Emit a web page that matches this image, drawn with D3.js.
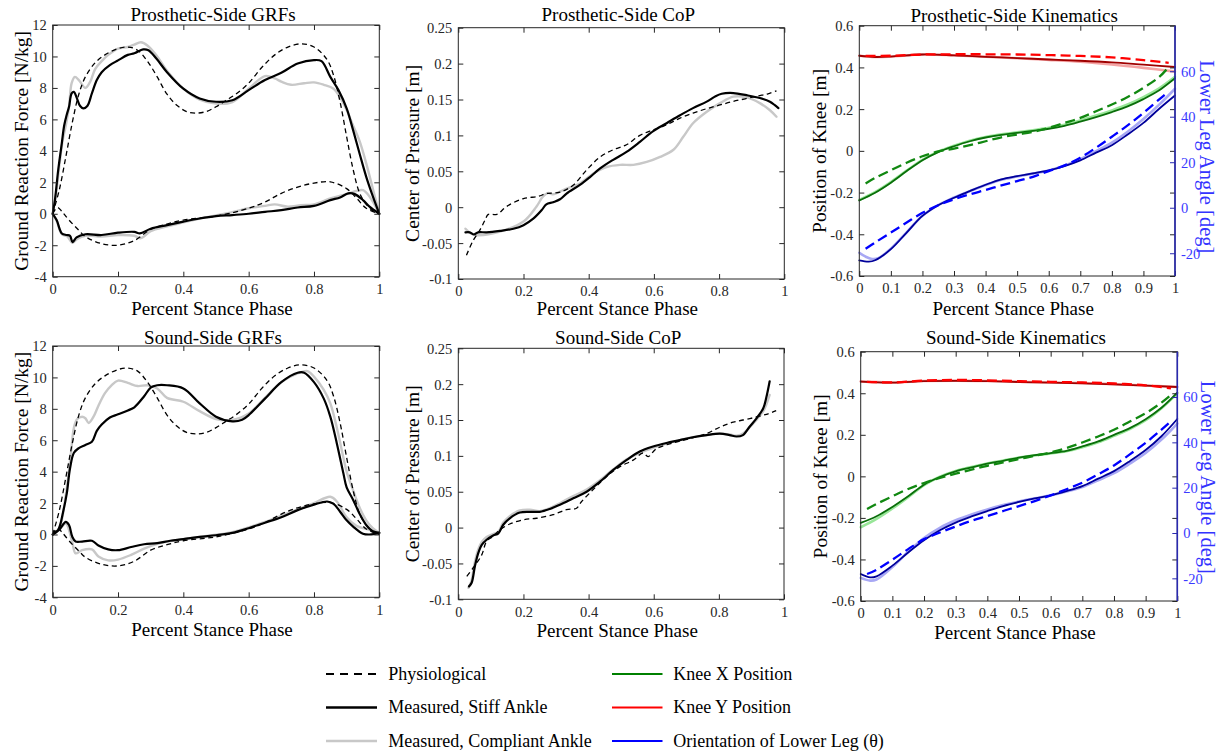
<!DOCTYPE html>
<html><head><meta charset="utf-8">
<script src="https://cdn.jsdelivr.net/npm/d3@7"></script>
<style>body{margin:0;background:#fff}svg{display:block}text{font-family:"Liberation Serif","Times New Roman",serif}</style>
</head><body><svg id="c" width="1220" height="752"></svg>
<script>
// ---------------- DATA ----------------
const phaseTicks5 = [0, 0.2, 0.4, 0.6, 0.8, 1];
const phaseTicks10 = [0, 0.1, 0.2, 0.3, 0.4, 0.5, 0.6, 0.7, 0.8, 0.9, 1];
const grfYTicks = [-4, -2, 0, 2, 4, 6, 8, 10, 12];
const copYTicks = [-0.1, -0.05, 0, 0.05, 0.1, 0.15, 0.2, 0.25];
const kinYTicks = [-0.6, -0.4, -0.2, 0, 0.2, 0.4, 0.6];
const angleTicks = [-20, 0, 20, 40, 60];

const titles = ["Prosthetic-Side GRFs", "Prosthetic-Side CoP", "Prosthetic-Side Kinematics",
                "Sound-Side GRFs", "Sound-Side CoP", "Sound-Side Kinematics"];
const legendLabels = ["Physiological", "Measured, Stiff Ankle", "Measured, Compliant Ankle",
                      "Knee X Position", "Knee Y Position", "Orientation of Lower Leg (\u03B8)"];

// GRFs [phase, N/kg]
const physGrfV = [[0,0],[0.02,1.5],[0.04,3.6],[0.06,5.8],[0.08,7.6],[0.1,8.7],[0.13,9.6],[0.16,10.1],[0.2,10.5],[0.23,10.6],[0.26,10.4],[0.29,9.7],[0.32,8.7],[0.35,7.6],[0.38,6.9],[0.41,6.5],[0.44,6.4],[0.47,6.5],[0.5,6.8],[0.53,7.2],[0.56,7.6],[0.6,8.3],[0.64,9.3],[0.68,10.1],[0.72,10.6],[0.76,10.8],[0.8,10.6],[0.84,9.8],[0.86,8.8],[0.88,7.1],[0.9,4.9],[0.92,2.8],[0.94,1.3],[0.96,0.6],[0.98,0.2],[1,0]];
const physGrfH = [[0,0],[0.015,0.4],[0.03,0.1],[0.05,-0.4],[0.08,-1.05],[0.1,-1.45],[0.15,-1.9],[0.2,-2.0],[0.25,-1.7],[0.3,-1.0],[0.35,-0.65],[0.4,-0.4],[0.5,-0.15],[0.6,0.35],[0.65,0.75],[0.7,1.3],[0.75,1.7],[0.8,1.95],[0.85,2.03],[0.9,1.6],[0.93,1.0],[0.96,0.35],[1,0]];
const stiffGrfVP = [[0,0],[0.007,0.9],[0.017,2.8],[0.028,4.5],[0.035,5.6],[0.043,6.3],[0.05,6.8],[0.058,7.65],[0.065,7.75],[0.073,7.4],[0.084,6.85],[0.094,6.7],[0.106,6.85],[0.12,7.65],[0.135,8.5],[0.15,9.0],[0.175,9.45],[0.2,9.75],[0.23,10.1],[0.25,10.2],[0.277,10.45],[0.293,10.4],[0.318,9.85],[0.35,9.0],[0.4,7.95],[0.45,7.33],[0.5,7.12],[0.55,7.22],[0.6,7.86],[0.65,8.5],[0.7,8.96],[0.75,9.55],[0.8,9.77],[0.823,9.7],[0.85,8.7],[0.875,7.86],[0.9,6.7],[0.92,5.3],[0.94,3.8],[0.96,2.35],[0.977,1.3],[1,0]];
const compGrfVP = [[0,0],[0.01,1.2],[0.02,3.0],[0.03,4.6],[0.04,5.6],[0.05,6.8],[0.058,8.3],[0.068,8.7],[0.08,8.5],[0.1,8.0],[0.115,8.4],[0.13,9.2],[0.15,9.7],[0.17,10.1],[0.2,10.5],[0.23,10.6],[0.25,10.75],[0.27,10.9],[0.29,10.7],[0.32,10.0],[0.35,9.1],[0.4,7.95],[0.45,7.25],[0.5,7.0],[0.55,7.1],[0.6,7.95],[0.65,8.75],[0.68,8.6],[0.7,8.4],[0.73,8.2],[0.77,8.3],[0.8,8.35],[0.83,8.2],[0.86,7.95],[0.88,7.4],[0.9,6.6],[0.92,5.6],[0.94,4.6],[0.96,3.2],[0.98,1.6],[1,0]];
const stiffGrfHP = [[0,0],[0.012,-0.4],[0.028,-1.25],[0.043,-1.35],[0.053,-1.4],[0.061,-1.8],[0.073,-1.5],[0.1,-1.3],[0.15,-1.35],[0.2,-1.2],[0.25,-1.15],[0.267,-1.25],[0.3,-0.95],[0.35,-0.72],[0.4,-0.5],[0.45,-0.3],[0.5,-0.15],[0.55,-0.08],[0.6,0],[0.65,0.12],[0.7,0.23],[0.75,0.4],[0.8,0.5],[0.85,0.87],[0.88,1.04],[0.905,1.3],[0.925,1.25],[0.95,0.87],[0.97,0.45],[1,0]];
const compGrfHP = [[0,0],[0.012,-0.45],[0.028,-1.3],[0.045,-1.45],[0.06,-1.85],[0.075,-1.6],[0.1,-1.4],[0.15,-1.45],[0.2,-1.35],[0.25,-1.4],[0.27,-1.55],[0.3,-1.1],[0.35,-0.8],[0.4,-0.55],[0.45,-0.3],[0.5,-0.1],[0.55,0.1],[0.6,0.35],[0.65,0.5],[0.68,0.6],[0.72,0.45],[0.76,0.55],[0.8,0.6],[0.85,0.97],[0.9,1.25],[0.93,1.45],[0.95,1.5],[0.97,1.1],[1,0]];
const stiffGrfVS = [[0,0],[0.017,0.3],[0.033,1.55],[0.043,2.6],[0.053,4.2],[0.065,5.2],[0.08,5.5],[0.1,5.7],[0.12,5.9],[0.135,6.6],[0.15,7.0],[0.175,7.45],[0.2,7.65],[0.23,7.9],[0.25,8.1],[0.28,8.8],[0.3,9.35],[0.32,9.5],[0.35,9.5],[0.4,9.3],[0.45,8.35],[0.5,7.5],[0.55,7.2],[0.58,7.3],[0.6,7.6],[0.65,8.65],[0.7,9.7],[0.75,10.3],[0.77,10.3],[0.8,9.7],[0.83,8.65],[0.85,7.5],[0.87,5.8],[0.89,3.9],[0.9,3.0],[0.92,2.2],[0.94,1.3],[0.96,0.6],[0.98,0.2],[1,0.1]];
const compGrfVS = [[0,0],[0.02,0.4],[0.04,2.5],[0.055,5.0],[0.065,6.8],[0.075,7.35],[0.09,7.5],[0.1,7.4],[0.11,7.1],[0.125,7.5],[0.14,8.2],[0.16,9.0],[0.18,9.5],[0.2,9.8],[0.23,9.65],[0.26,9.45],[0.29,9.5],[0.32,9.3],[0.35,8.7],[0.4,8.45],[0.45,7.85],[0.5,7.35],[0.55,7.3],[0.6,7.7],[0.65,8.7],[0.7,9.7],[0.75,10.25],[0.78,10.4],[0.8,10.05],[0.83,9.2],[0.85,8.35],[0.87,6.8],[0.89,4.9],[0.9,4.0],[0.92,2.8],[0.94,1.7],[0.96,0.9],[0.98,0.4],[1,0.1]];
const stiffGrfHS = [[0,0],[0.02,0.3],[0.04,0.8],[0.05,0.6],[0.06,-0.15],[0.07,-0.45],[0.09,-0.45],[0.12,-0.4],[0.14,-0.7],[0.17,-0.95],[0.2,-1.0],[0.24,-0.8],[0.28,-0.62],[0.32,-0.55],[0.36,-0.4],[0.4,-0.3],[0.45,-0.15],[0.5,-0.05],[0.55,0.1],[0.6,0.4],[0.65,0.75],[0.7,1.1],[0.75,1.55],[0.8,1.9],[0.84,2.1],[0.86,1.95],[0.88,1.45],[0.9,0.9],[0.92,0.5],[0.95,0.05],[0.97,0],[1,0.1]];
const compGrfHS = [[0,0],[0.02,0.3],[0.04,0.7],[0.06,-0.5],[0.07,-1.2],[0.09,-1.0],[0.12,-0.95],[0.14,-1.4],[0.17,-1.65],[0.2,-1.6],[0.24,-1.3],[0.28,-0.9],[0.32,-0.6],[0.36,-0.42],[0.4,-0.3],[0.45,-0.15],[0.5,-0.02],[0.55,0.15],[0.6,0.45],[0.65,0.8],[0.7,1.2],[0.75,1.6],[0.8,2.0],[0.85,2.4],[0.87,2.1],[0.9,1.1],[0.93,0.55],[0.96,0.35],[1,0.1]];

// CoP [phase, m]
const physCopP = [[0.025,-0.067],[0.046,-0.046],[0.066,-0.032],[0.082,-0.018],[0.092,-0.01],[0.118,-0.01],[0.148,0.001],[0.2,0.012],[0.245,0.015],[0.27,0.019],[0.312,0.021],[0.353,0.031],[0.394,0.052],[0.435,0.07],[0.475,0.08],[0.516,0.087],[0.557,0.1],[0.6,0.108],[0.64,0.115],[0.68,0.124],[0.72,0.131],[0.76,0.137],[0.8,0.142],[0.84,0.147],[0.88,0.151],[0.92,0.155],[0.95,0.158],[0.976,0.162]];
const stiffCopP = [[0.022,-0.035],[0.035,-0.035],[0.048,-0.038],[0.061,-0.035],[0.087,-0.035],[0.128,-0.033],[0.169,-0.03],[0.2,-0.025],[0.23,-0.016],[0.256,-0.004],[0.27,0.004],[0.291,0.007],[0.312,0.011],[0.332,0.019],[0.373,0.031],[0.404,0.042],[0.435,0.054],[0.475,0.066],[0.516,0.077],[0.557,0.091],[0.598,0.106],[0.639,0.117],[0.68,0.128],[0.72,0.138],[0.762,0.147],[0.787,0.154],[0.808,0.158],[0.844,0.159],[0.884,0.156],[0.925,0.152],[0.956,0.147],[0.971,0.142],[0.982,0.138]];
const compCopP = [[0.022,-0.03],[0.04,-0.037],[0.06,-0.039],[0.128,-0.034],[0.2,-0.02],[0.24,0.001],[0.26,0.015],[0.276,0.02],[0.29,0.018],[0.332,0.026],[0.373,0.033],[0.414,0.047],[0.455,0.056],[0.496,0.059],[0.537,0.059],[0.578,0.063],[0.619,0.07],[0.66,0.08],[0.69,0.098],[0.72,0.117],[0.762,0.133],[0.803,0.145],[0.844,0.154],[0.884,0.153],[0.925,0.145],[0.956,0.135],[0.976,0.126]];
const physCopS = [[0.026,-0.068],[0.046,-0.056],[0.072,-0.038],[0.087,-0.019],[0.107,-0.012],[0.128,-0.003],[0.158,0.005],[0.2,0.011],[0.24,0.013],[0.291,0.018],[0.332,0.025],[0.363,0.027],[0.378,0.036],[0.414,0.053],[0.455,0.071],[0.496,0.085],[0.537,0.094],[0.567,0.104],[0.583,0.099],[0.608,0.11],[0.66,0.118],[0.71,0.124],[0.762,0.131],[0.803,0.14],[0.844,0.147],[0.895,0.152],[0.946,0.158],[0.976,0.163]];
const stiffCopS = [[0.033,-0.082],[0.041,-0.077],[0.051,-0.054],[0.061,-0.036],[0.072,-0.024],[0.087,-0.017],[0.107,-0.011],[0.123,-0.008],[0.138,0.004],[0.158,0.013],[0.189,0.021],[0.22,0.022],[0.25,0.022],[0.281,0.026],[0.312,0.032],[0.353,0.041],[0.394,0.05],[0.435,0.064],[0.475,0.08],[0.516,0.094],[0.557,0.106],[0.598,0.113],[0.639,0.118],[0.68,0.122],[0.72,0.126],[0.762,0.129],[0.803,0.131],[0.833,0.129],[0.854,0.127],[0.874,0.129],[0.895,0.141],[0.915,0.152],[0.936,0.166],[0.946,0.182],[0.956,0.204]];
const compCopS = [[0.031,-0.084],[0.04,-0.075],[0.05,-0.05],[0.06,-0.032],[0.072,-0.02],[0.087,-0.013],[0.107,-0.009],[0.123,-0.006],[0.138,0.007],[0.158,0.016],[0.189,0.024],[0.22,0.025],[0.25,0.023],[0.281,0.027],[0.312,0.034],[0.353,0.044],[0.394,0.053],[0.435,0.066],[0.475,0.081],[0.516,0.095],[0.557,0.104],[0.598,0.111],[0.639,0.117],[0.68,0.122],[0.72,0.126],[0.762,0.129],[0.803,0.131],[0.833,0.13],[0.854,0.128],[0.874,0.131],[0.895,0.14],[0.915,0.15],[0.936,0.162],[0.946,0.172],[0.956,0.185]];

// Kinematics: knee position [m] (left axis), lower-leg angle [deg] (right axis)
const stiffKyP = [[0,0.456],[0.05,0.45],[0.1,0.452],[0.2,0.462],[0.3,0.458],[0.4,0.451],[0.5,0.445],[0.6,0.438],[0.7,0.432],[0.8,0.424],[0.9,0.413],[1,0.402]];
const compKyP = [[0,0.456],[0.05,0.45],[0.1,0.452],[0.2,0.462],[0.3,0.458],[0.4,0.451],[0.5,0.444],[0.6,0.436],[0.7,0.427],[0.8,0.414],[0.9,0.398],[1,0.38]];
const physKyP = [[0.02,0.455],[0.1,0.456],[0.2,0.462],[0.3,0.463],[0.4,0.463],[0.5,0.462],[0.6,0.459],[0.7,0.455],[0.8,0.448],[0.9,0.435],[0.98,0.422]];
const stiffKxP = [[0,-0.238],[0.05,-0.201],[0.1,-0.153],[0.15,-0.097],[0.2,-0.045],[0.25,-0.006],[0.3,0.022],[0.35,0.046],[0.4,0.064],[0.45,0.077],[0.5,0.086],[0.55,0.096],[0.6,0.106],[0.65,0.12],[0.7,0.14],[0.75,0.162],[0.8,0.186],[0.85,0.213],[0.9,0.248],[0.95,0.29],[1,0.348]];
const compKxP = [[0,-0.235],[0.05,-0.198],[0.1,-0.15],[0.15,-0.095],[0.2,-0.043],[0.25,-0.004],[0.3,0.024],[0.35,0.048],[0.4,0.066],[0.45,0.079],[0.5,0.089],[0.55,0.099],[0.6,0.11],[0.65,0.125],[0.7,0.146],[0.75,0.169],[0.8,0.194],[0.85,0.222],[0.9,0.258],[0.95,0.3],[1,0.355]];
const physKxP = [[0.02,-0.156],[0.05,-0.13],[0.1,-0.093],[0.15,-0.057],[0.2,-0.026],[0.25,-0.003],[0.3,0.011],[0.35,0.027],[0.4,0.046],[0.45,0.065],[0.5,0.078],[0.55,0.091],[0.6,0.11],[0.65,0.134],[0.7,0.158],[0.75,0.19],[0.8,0.222],[0.85,0.258],[0.9,0.302],[0.95,0.354],[0.98,0.402]];
const stiffThP = [[0,-23.1],[0.03,-23.7],[0.05,-23.1],[0.1,-18.2],[0.15,-10.9],[0.2,-3.6],[0.25,1.1],[0.3,4.4],[0.35,7.3],[0.4,10.1],[0.45,12.5],[0.5,13.9],[0.55,15.1],[0.6,16.4],[0.65,18.3],[0.7,20.8],[0.75,24.2],[0.8,27.5],[0.85,32.2],[0.9,37.3],[0.95,43.5],[1,49.3]];
const compThP = [[0,-19.8],[0.02,-21.5],[0.04,-22.5],[0.06,-22.2],[0.1,-18.0],[0.15,-10.8],[0.2,-3.5],[0.25,1.2],[0.3,4.5],[0.35,7.3],[0.4,10.0],[0.45,12.3],[0.5,13.7],[0.55,15.0],[0.6,16.4],[0.65,18.5],[0.7,21.3],[0.75,24.9],[0.8,28.6],[0.85,33.4],[0.9,39.0],[0.95,45.3],[1,52.3]];
const physThP = [[0.02,-18],[0.05,-15.3],[0.1,-10.9],[0.15,-6.5],[0.2,-2.2],[0.25,1.1],[0.3,3.7],[0.35,5.9],[0.4,7.8],[0.45,9.8],[0.5,11.7],[0.55,13.6],[0.6,16.1],[0.65,18.6],[0.7,22],[0.75,26.4],[0.8,31.2],[0.85,36.2],[0.9,41.7],[0.95,47.6],[0.98,51]];
const stiffKyS = [[0,0.456],[0.1,0.451],[0.2,0.458],[0.3,0.46],[0.4,0.458],[0.5,0.454],[0.6,0.451],[0.7,0.448],[0.8,0.443],[0.9,0.437],[1,0.43]];
const compKyS = [[0,0.457],[0.1,0.452],[0.2,0.459],[0.3,0.461],[0.4,0.459],[0.5,0.455],[0.6,0.452],[0.7,0.449],[0.8,0.444],[0.9,0.437],[1,0.43]];
const physKyS = [[0.02,0.455],[0.1,0.452],[0.2,0.461],[0.3,0.464],[0.4,0.462],[0.5,0.458],[0.6,0.455],[0.7,0.452],[0.8,0.447],[0.9,0.438],[0.98,0.424]];
const stiffKxS = [[0,-0.224],[0.05,-0.192],[0.1,-0.147],[0.15,-0.096],[0.2,-0.04],[0.25,-0.003],[0.3,0.024],[0.35,0.043],[0.4,0.061],[0.45,0.075],[0.5,0.09],[0.55,0.102],[0.6,0.112],[0.65,0.123],[0.7,0.144],[0.75,0.168],[0.8,0.2],[0.85,0.232],[0.9,0.275],[0.95,0.33],[1,0.403]];
const compKxS = [[0,-0.245],[0.05,-0.205],[0.1,-0.155],[0.15,-0.1],[0.2,-0.042],[0.25,-0.002],[0.3,0.026],[0.35,0.045],[0.4,0.062],[0.45,0.076],[0.5,0.09],[0.55,0.101],[0.6,0.11],[0.65,0.121],[0.7,0.14],[0.75,0.164],[0.8,0.195],[0.85,0.228],[0.9,0.27],[0.95,0.328],[1,0.4]];
const physKxS = [[0.02,-0.157],[0.05,-0.133],[0.1,-0.096],[0.15,-0.061],[0.2,-0.032],[0.25,-0.008],[0.3,0.013],[0.35,0.032],[0.4,0.051],[0.45,0.067],[0.5,0.083],[0.55,0.099],[0.6,0.115],[0.65,0.136],[0.7,0.163],[0.75,0.192],[0.8,0.224],[0.85,0.264],[0.9,0.304],[0.95,0.355],[0.98,0.392]];
const stiffThS = [[0,-18.1],[0.03,-19.6],[0.05,-19.1],[0.1,-14.4],[0.15,-8.6],[0.2,-3.2],[0.25,1.2],[0.3,4.6],[0.35,7.3],[0.4,9.7],[0.45,11.9],[0.5,13.7],[0.55,15.3],[0.6,16.6],[0.65,18.5],[0.7,20.7],[0.75,24],[0.8,27.3],[0.85,31.7],[0.9,36.6],[0.95,42.7],[1,50.3]];
const compThS = [[0,-19.8],[0.03,-21],[0.05,-20.5],[0.1,-15],[0.15,-8.3],[0.2,-2.2],[0.25,2.3],[0.3,5.6],[0.35,8.2],[0.4,10.4],[0.45,12.3],[0.5,13.9],[0.55,15.3],[0.6,16.6],[0.65,18.3],[0.7,20.3],[0.75,23.3],[0.8,26.4],[0.85,30.6],[0.9,35.3],[0.95,41.2],[1,48.3]];
const physThS = [[0.02,-18.1],[0.05,-16.2],[0.1,-11.8],[0.15,-7.1],[0.2,-2.7],[0.25,0.2],[0.3,2.9],[0.35,5.4],[0.4,7.5],[0.45,9.7],[0.5,11.9],[0.55,14.1],[0.6,16.6],[0.65,19.3],[0.7,22.2],[0.75,25.9],[0.8,29.8],[0.85,34.7],[0.9,39.8],[0.95,45.6],[0.98,49.3]];

// ---------------- STYLE ----------------
const AX = "#262626";
const S = {
  grfPhys: {color:"#000", width:1.3, dash:"5,3.5"},
  grfStiff:{color:"#000", width:2.2},
  grfComp: {color:"#c8c8c8", width:2.4},
  ky: {phys:"#ff0000", stiff:"#a00000", comp:"#f4a4a4"},
  kx: {phys:"#118811", stiff:"#0a6e0a", comp:"#98e698"},
  th: {phys:"#0000ff", stiff:"#00009a", comp:"#a8a8f4"}
};
const TICK_FS = 14.5, TITLE_FS = 19, LABEL_FS = 19.5, XLABEL_FS = 19, RLABEL_FS = 20.5, LEG_FS = 18;

const svg = d3.select("#c");
let clipN = 0;

function drawPanel(p) {
  const x = d3.scaleLinear().domain([0, 1]).range([p.x0, p.x1]);
  const y = d3.scaleLinear().domain(p.yDomain).range([p.yBot, p.yTop]);
  const yR = p.yRDomain ? d3.scaleLinear().domain(p.yRDomain).range([p.yBot, p.yTop]) : null;
  const g = svg.append("g");
  const cid = "clip" + (clipN++);
  g.append("clipPath").attr("id", cid).append("rect")
    .attr("x", p.x0 - 1.5).attr("y", p.yTop - 1.5)
    .attr("width", p.x1 - p.x0 + 3).attr("height", p.yBot - p.yTop + 3);
  const lg = g.append("g").attr("clip-path", `url(#${cid})`);
  p.series.forEach(s => {
    const ys = s.right ? yR : y;
    const line = d3.line().x(d => x(d[0])).y(d => ys(d[1])).curve(d3.curveCatmullRom.alpha(0.5));
    lg.append("path").attr("d", line(s.data)).attr("fill", "none")
      .attr("stroke", s.color).attr("stroke-width", s.width)
      .attr("stroke-dasharray", s.dash || null)
      .attr("stroke-linejoin", "round").attr("stroke-linecap", s.dash ? "butt" : "round");
  });
  g.append("rect").attr("x", p.x0).attr("y", p.yTop).attr("width", p.x1 - p.x0).attr("height", p.yBot - p.yTop)
    .attr("fill", "none").attr("stroke", AX).attr("stroke-width", 1);
  const fmt = d => String(d);
  const style = (sel, color) => {
    sel.select(".domain").remove();
    sel.selectAll(".tick line").attr("stroke", color || AX).attr("stroke-width", 1);
    sel.selectAll(".tick text").attr("font-size", TICK_FS).attr("fill", color || AX)
      .attr("font-family", '"Liberation Serif","Times New Roman",serif');
  };
  const gb = g.append("g").attr("transform", `translate(0,${p.yBot})`)
    .call(d3.axisBottom(x).tickValues(p.xTicks).tickFormat(fmt).tickSize(-5).tickSizeOuter(0).tickPadding(7));
  style(gb);
  gb.selectAll(".tick text").attr("dy", null).attr("y", 17.3);
  const gt = g.append("g").attr("transform", `translate(0,${p.yTop})`)
    .call(d3.axisTop(x).tickValues(p.xTicks).tickFormat("").tickSize(-5).tickSizeOuter(0));
  style(gt);
  const gl = g.append("g").attr("transform", `translate(${p.x0},0)`)
    .call(d3.axisLeft(y).tickValues(p.yTicks).tickFormat(fmt).tickSize(-5).tickSizeOuter(0).tickPadding(6));
  style(gl);
  gl.selectAll(".tick text").attr("dy", "0.34em");
  const gr = g.append("g").attr("transform", `translate(${p.x1},0)`)
    .call(d3.axisRight(y).tickValues(p.yTicks).tickFormat("").tickSize(-5).tickSizeOuter(0));
  style(gr);
  if (yR) {
    const BL = "#2a2ab0";
    g.append("line").attr("x1", p.x1).attr("x2", p.x1).attr("y1", p.yTop).attr("y2", p.yBot)
      .attr("stroke", BL).attr("stroke-width", 1.6);
    const gr2 = g.append("g").attr("transform", `translate(${p.x1},0)`)
      .call(d3.axisRight(yR).tickValues(p.yRTicks).tickFormat(fmt).tickSize(-5).tickSizeOuter(0).tickPadding(6));
    style(gr2, "#3a3aff");
    gr2.selectAll(".tick line").attr("stroke", BL);
    gr2.selectAll(".tick text").attr("dy", "0.34em");
    g.append("text").attr("transform", `translate(${p.rLabelX},${(p.yTop + p.yBot) / 2 + p.rLabelDy}) rotate(90)`)
      .attr("text-anchor", "middle").attr("font-size", RLABEL_FS).attr("fill", "#3333ff").text(p.rLabel);
  }
  g.append("text").attr("x", (p.x0 + p.x1) / 2 - 3).attr("y", p.titleY).attr("text-anchor", "middle")
    .attr("font-size", TITLE_FS).attr("fill", "#000").text(p.title);
  g.append("text").attr("x", (p.x0 + p.x1) / 2 - 4).attr("y", p.xLabelY).attr("text-anchor", "middle")
    .attr("font-size", XLABEL_FS).attr("fill", "#000").text("Percent Stance Phase");
  g.append("text").attr("transform", `translate(${p.yLabelX},${(p.yTop + p.yBot) / 2}) rotate(-90)`)
    .attr("text-anchor", "middle").attr("font-size", LABEL_FS).attr("fill", "#000").text(p.yLabel);
}

function grfSeries(comp, stiff, compH, stiffH) {
  return [
    {data: comp, ...S.grfComp}, {data: compH, ...S.grfComp},
    {data: stiff, ...S.grfStiff}, {data: stiffH, ...S.grfStiff},
    {data: physGrfV, ...S.grfPhys}, {data: physGrfH, ...S.grfPhys}
  ];
}
function copSeries(comp, stiff, phys) {
  return [{data: comp, ...S.grfComp}, {data: stiff, ...S.grfStiff}, {data: phys, ...S.grfPhys}];
}
function kinSeries(ky, kx, th) {
  const out = [];
  [["comp", 2.6], ["stiff", 1.8]].forEach(([k, w]) => {
    out.push({data: ky[k], color: S.ky[k], width: w});
    out.push({data: kx[k], color: S.kx[k], width: w});
    out.push({data: th[k], color: S.th[k], width: w, right: true});
  });
  out.push({data: ky.phys, color: S.ky.phys, width: 2.3, dash: "10,5"});
  out.push({data: kx.phys, color: S.kx.phys, width: 2.3, dash: "10,5"});
  out.push({data: th.phys, color: S.th.phys, width: 2.3, dash: "10,5", right: true});
  return out;
}

const grfLabel = "Ground Reaction Force [N/kg]";
const copLabel = "Center of Pressure [m]";
const kinLabel = "Position of Knee [m]";
const angLabel = "Lower Leg Angle [deg]";

drawPanel({x0:52.7, x1:379.3, yTop:25, yBot:276.7, yDomain:[-4,12], xTicks:phaseTicks5, yTicks:grfYTicks,
  title:titles[0], titleY:21, xLabelY:314.5, yLabel:grfLabel, yLabelX:28,
  series:grfSeries(compGrfVP, stiffGrfVP, compGrfHP, stiffGrfHP)});
drawPanel({x0:458.3, x1:784.3, yTop:27.7, yBot:279, yDomain:[-0.1,0.25], xTicks:phaseTicks5, yTicks:copYTicks,
  title:titles[1], titleY:21, xLabelY:315, yLabel:copLabel, yLabelX:419,
  series:copSeries(compCopP, stiffCopP, physCopP)});
drawPanel({x0:859.3, x1:1175, yTop:25.7, yBot:276, yDomain:[-0.6,0.6], yRDomain:[-30,80], xTicks:phaseTicks10, yTicks:kinYTicks, yRTicks:angleTicks,
  title:titles[2], titleY:21.5, xLabelY:314.5, yLabel:kinLabel, yLabelX:826, rLabel:angLabel, rLabelX:1200, rLabelDy:6,
  series:kinSeries({comp:compKyP, stiff:stiffKyP, phys:physKyP}, {comp:compKxP, stiff:stiffKxP, phys:physKxP}, {comp:compThP, stiff:stiffThP, phys:physThP})});
drawPanel({x0:52.7, x1:379.3, yTop:346, yBot:597.3, yDomain:[-4,12], xTicks:phaseTicks5, yTicks:grfYTicks,
  title:titles[3], titleY:343.5, xLabelY:636, yLabel:grfLabel, yLabelX:28,
  series:grfSeries(compGrfVS, stiffGrfVS, compGrfHS, stiffGrfHS)});
drawPanel({x0:458.3, x1:784, yTop:348.3, yBot:599.3, yDomain:[-0.1,0.25], xTicks:phaseTicks5, yTicks:copYTicks,
  title:titles[4], titleY:343.5, xLabelY:636.5, yLabel:copLabel, yLabelX:419,
  series:copSeries(compCopS, stiffCopS, physCopS)});
drawPanel({x0:860.7, x1:1177.3, yTop:351.7, yBot:601, yDomain:[-0.6,0.6], yRDomain:[-30,80], xTicks:phaseTicks10, yTicks:kinYTicks, yRTicks:angleTicks,
  title:titles[5], titleY:344, xLabelY:638.5, yLabel:kinLabel, yLabelX:827, rLabel:angLabel, rLabelX:1201, rLabelDy:1,
  series:kinSeries({comp:compKyS, stiff:stiffKyS, phys:physKyS}, {comp:compKxS, stiff:stiffKxS, phys:physKxS}, {comp:compThS, stiff:stiffThS, phys:physThS})});

// ---------------- LEGEND ----------------
const legendStyles = [
  {color:"#000", width:2.2, dash:"8,6"}, {color:"#000", width:2.6}, {color:"#c8c8c8", width:2.6},
  {color:"#008000", width:2.2}, {color:"#ff0000", width:2.2}, {color:"#0000ff", width:2.2}
];
const legRowY = [674, 707.5, 741];
const legCols = [{lx0:326, lx1:377, tx:388.3}, {lx0:612, lx1:662.5, tx:673.3}];
const leg = svg.append("g");
legendLabels.forEach((lab, i) => {
  const c = legCols[Math.floor(i / 3)], yy = legRowY[i % 3], st = legendStyles[i];
  leg.append("line").attr("x1", c.lx0).attr("x2", c.lx1).attr("y1", yy).attr("y2", yy)
    .attr("stroke", st.color).attr("stroke-width", st.width).attr("stroke-dasharray", st.dash || null);
  leg.append("text").attr("x", c.tx).attr("y", yy + 5.7).attr("font-size", LEG_FS).attr("fill", "#000").text(lab);
});
</script></body></html>
